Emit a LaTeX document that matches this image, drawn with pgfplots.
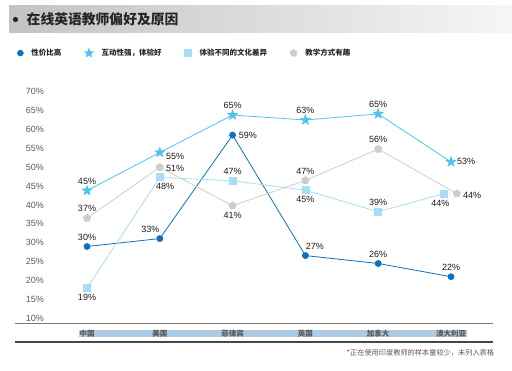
\documentclass[border=0pt]{standalone}
\usepackage{fontspec}
\setmainfont{Liberation Sans}
\newfontfamily\cjk{Noto Sans CJK SC}
\usepackage{pgfplots}
\pgfplotsset{compat=1.18}
\usetikzlibrary{plotmarks}

\definecolor{c1}{HTML}{0E70C0}
\definecolor{c2}{HTML}{4EC3EF}
\definecolor{c3}{HTML}{A7DDF7}
\definecolor{c4}{HTML}{CDCDCD}
\definecolor{barL}{HTML}{C4C2C2}
\definecolor{barR}{HTML}{F6F6F6}
\definecolor{titlec}{HTML}{262626}
\definecolor{tickc}{HTML}{595959}
\definecolor{labc}{HTML}{1A1A1A}
\definecolor{bandc}{HTML}{ADCBE3}

\pgfdeclareplotmark{fstar}{%
  \pgfpathmoveto{\pgfpointpolar{90}{\pgfplotmarksize}}%
  \pgfpathlineto{\pgfpointpolar{126}{0.42\pgfplotmarksize}}%
  \pgfpathlineto{\pgfpointpolar{162}{\pgfplotmarksize}}%
  \pgfpathlineto{\pgfpointpolar{198}{0.42\pgfplotmarksize}}%
  \pgfpathlineto{\pgfpointpolar{234}{\pgfplotmarksize}}%
  \pgfpathlineto{\pgfpointpolar{270}{0.42\pgfplotmarksize}}%
  \pgfpathlineto{\pgfpointpolar{306}{\pgfplotmarksize}}%
  \pgfpathlineto{\pgfpointpolar{342}{0.42\pgfplotmarksize}}%
  \pgfpathlineto{\pgfpointpolar{18}{\pgfplotmarksize}}%
  \pgfpathlineto{\pgfpointpolar{54}{0.42\pgfplotmarksize}}%
  \pgfpathclose
  \pgfusepathqfillstroke
}

\pgfplotsset{
  L/.style={
    forget plot, draw=none, mark=none,
    point meta=explicit symbolic,
    nodes near coords={\pgfplotspointmeta\%},
    every node near coord/.append style={anchor=#1, font=\fontsize{9}{10}\selectfont, text=labc, inner sep=6pt}
  },
  m1/.style={c1, mark=*, mark size=3pt, mark options={fill=c1, draw=c1}},
  m2/.style={c2, mark=fstar, mark size=4.8pt, mark options={fill=c2, draw=c2}},
  m3/.style={c3, mark=square*, mark size=3.5pt, mark options={fill=c3, draw=c3}},
  m4/.style={c4, mark=pentagon*, mark size=3.8pt, mark options={fill=c4, draw=c4}},
}

\begin{document}
\begin{tikzpicture}
\useasboundingbox (0,0) rectangle (512pt,371pt);
\shade[left color=barL, right color=barR] (9pt,338.3pt) rectangle (512pt,365pt);
\fill[titlec] (15.5pt,351.5pt) circle (2.6pt);
\node[anchor=west, inner sep=0pt, font=\cjk\bfseries\fontsize{13.8}{16}\selectfont, text=titlec] at (26.5pt,351.5pt) {在线英语教师偏好及原因};
\node[anchor=east, inner sep=0pt, font=\cjk\fontsize{7.2}{9}\selectfont, text=tickc] at (494.3pt,17.7pt) {*正在使用印度教师的样本量较少，未列入表格};
\begin{axis}[
  axis on top,
  at={(14.2pt,26.3pt)}, anchor=south west,
  scale only axis, width=480.5pt, height=260.6pt,
  xmin=-1, xmax=5.6, ymin=3, ymax=72,
  clip=false,
  axis line style={draw=none},
  major tick length=0pt,
  xtick={0,1,2,3,4,5},
  xticklabels={中国,美国,菲律宾,英国,加拿大,澳大利亚},
  xticklabel style={font=\cjk\bfseries\fontsize{7.5}{9}\selectfont, text=tickc, anchor=center, yshift=11.3pt},
  ytick={10,15,...,70},
  yticklabels={10\%,15\%,20\%,25\%,30\%,35\%,40\%,45\%,50\%,55\%,60\%,65\%,70\%},
  yticklabel style={font=\fontsize{9}{10}\selectfont, text=tickc, anchor=east, inner sep=0pt, xshift=29.8pt},
  legend columns=4,
  legend style={at={(axis description cs:0.0,1.119)}, anchor=west, draw=none, fill=none,
    font=\cjk\bfseries\fontsize{7.5}{9}\selectfont, text=titlec,
    /tikz/every even column/.append style={column sep=21pt},
    /tikz/every odd column/.append style={column sep=6pt}},
]
\fill[bandc] (axis cs:-0.11,5.05) rectangle (axis cs:5.22,6.9);
\draw[color=tickc!80, line width=0.9pt] (axis cs:-0.99,8.5) -- (axis cs:5.58,8.5);
\draw[color=titlec!85, line width=1.4pt] (axis cs:-0.99,3.73) -- (axis cs:5.58,3.73);

\addlegendimage{only marks, m1}
\addlegendentry{性价比高}
\addlegendimage{only marks, m2}
\addlegendentry{互动性强，体验好}
\addlegendimage{only marks, m3}
\addlegendentry{体验不同的文化差异}
\addlegendimage{only marks, m4}
\addlegendentry{教学方式有趣}

% 性价比高
\addplot[m1, line width=0.8pt, forget plot] coordinates {(0,29.0) (1,31.1) (2,58.5) (3,26.6) (4,24.5) (5,21.0)};
% 互动性强，体验好
\addplot[m2, line width=0.8pt, forget plot] coordinates {(0,43.8) (1,53.9) (2,63.8) (3,62.5) (4,64.1) (5,51.4)};
% 体验不同的文化差异
\addplot[m3, line width=0.8pt, forget plot] coordinates {(0,18.0) (1,47.3) (2,46.4) (3,43.9) (4,38.2) (4.9,43.0)};
% 教学方式有趣
\addplot[m4, line width=0.8pt, forget plot] coordinates {(0,36.5) (1,50.0) (2,39.8) (3,46.5) (4,54.8) (5.08,43.0)};

% value labels
\addplot[L=270] coordinates {(0,29.0)[30] (4,24.5)[26] (5,21.0)[22]};
\addplot[L=315] coordinates {(1,31.1)[33]};
\addplot[L=180] coordinates {(2,58.5)[59]};
\addplot[L=225] coordinates {(3,26.6)[27]};

\addplot[L=270] coordinates {(0,43.8)[45] (2,63.8)[65] (3,62.5)[63] (4,64.1)[65]};
\addplot[L=165] coordinates {(1,53.9)[55]};
\addplot[L=180] coordinates {(5,51.4)[53]};

\addplot[L=90] coordinates {(0,18.0)[19] (3,43.9)[45]};
\addplot[L=120] coordinates {(1,47.3)[48]};
\addplot[L=270] coordinates {(2,46.4)[47] (4,38.2)[39]};
\addplot[L=70] coordinates {(4.9,43.0)[44]};

\addplot[L=270] coordinates {(0,36.5)[37] (3,46.5)[47] (4,54.8)[56]};
\addplot[L=175] coordinates {(1,50.0)[51] (5.08,43.0)[44]};
\addplot[L=90] coordinates {(2,39.8)[41]};
\end{axis}
\end{tikzpicture}
\end{document}
